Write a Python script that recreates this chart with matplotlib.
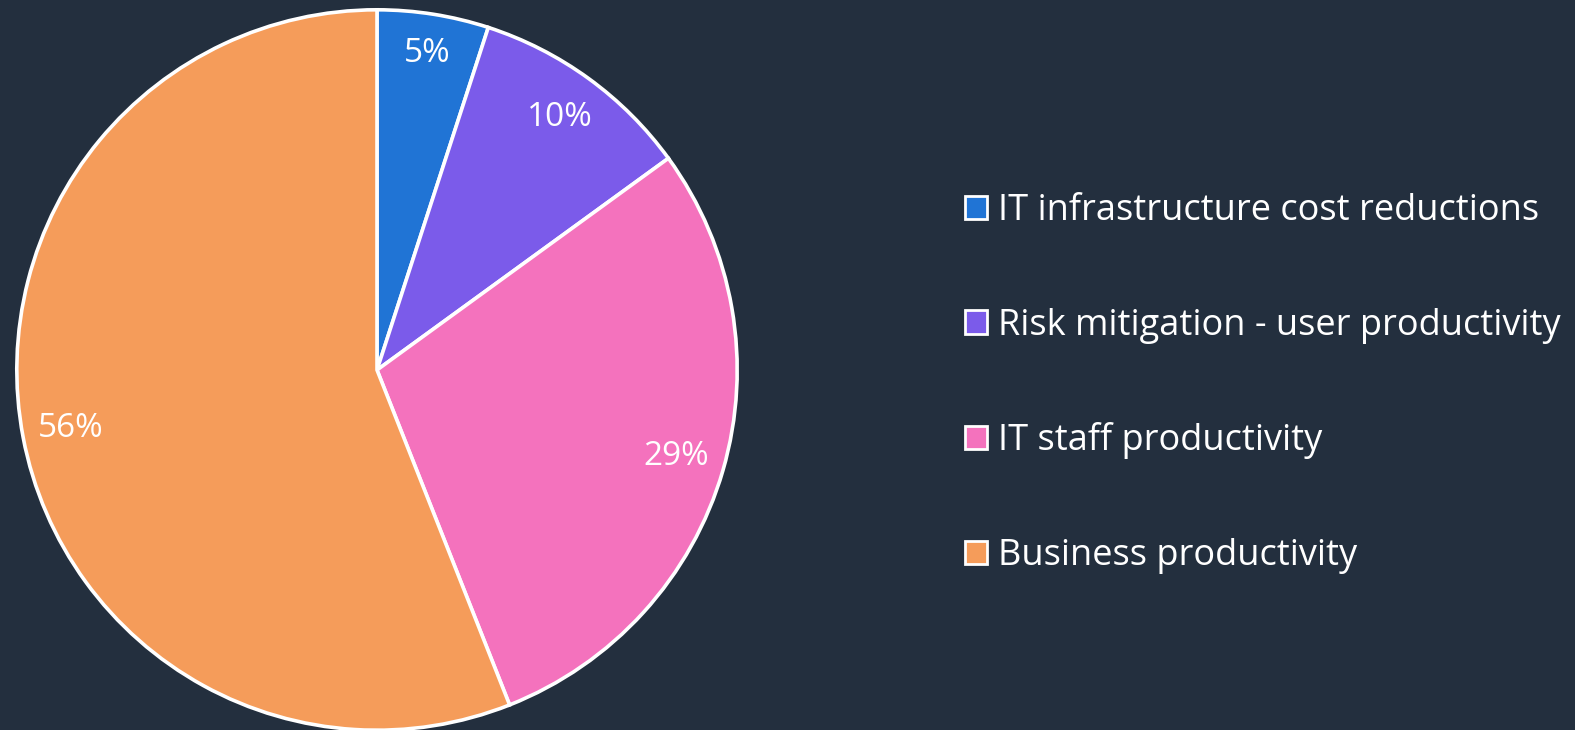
import matplotlib
matplotlib.use("Agg")
import matplotlib.pyplot as plt
from matplotlib.patches import Patch
import numpy as np

categories = ["IT infrastructure cost reductions", "Risk mitigation - user productivity",
              "IT staff productivity", "Business productivity"]
values = [5, 10, 29, 56]
colors = ["#2074d5", "#7b5bea", "#f472bd", "#f59c5a"]

plt.rcParams['font.family'] = ['Open Sans', 'DejaVu Sans']
bg = "#232f3e"

fig = plt.figure(figsize=(15.75, 7.3), dpi=100, facecolor=bg)
cx, cy, r = 377, 370, 362
ax = fig.add_axes([(cx - r) / 1575, (730 - cy - r) / 730, 2 * r / 1575, 2 * r / 730])
ax.set_facecolor(bg)
wedges, texts, autotexts = ax.pie(values, colors=colors, startangle=90, counterclock=False,
                                  autopct='%d%%', pctdistance=0.865,
                                  wedgeprops=dict(edgecolor='white', linewidth=2.6),
                                  textprops=dict(color='white', fontsize=24))
# push the small first label slightly outward, as in the reference
x0, y0 = autotexts[0].get_position()
autotexts[0].set_position((x0 * 0.89 / 0.865, y0 * 0.89 / 0.865))
ax.set_xlim(-1.005, 1.005)
ax.set_ylim(-1.005, 1.005)
ax.set_aspect('equal')
ax.axis('off')

handles = [Patch(facecolor=c, edgecolor='white', linewidth=2) for c in colors]
leg = fig.legend(handles, categories, loc='center left', bbox_to_anchor=(947 / 1575, 0.4745),
                 frameon=False, fontsize=26, labelcolor='white', handlelength=0.62,
                 handleheight=0.62, handletextpad=0.28, labelspacing=2.18, borderpad=0)
fig.savefig("out.png", dpi=100, facecolor=bg)
